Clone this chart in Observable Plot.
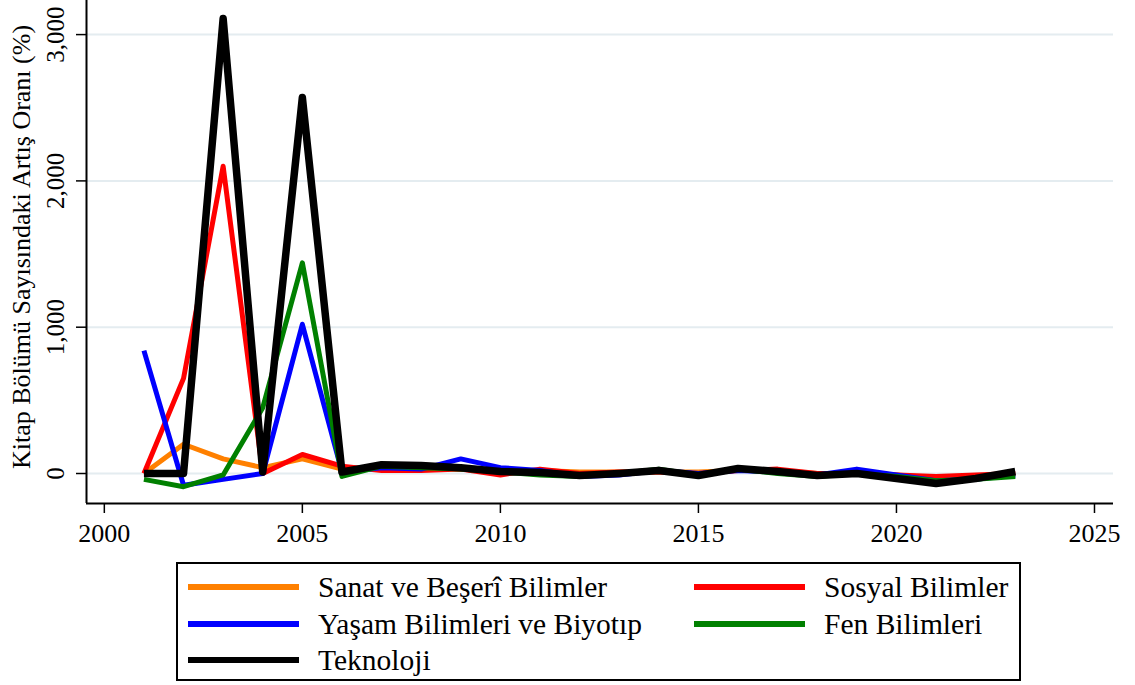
<!DOCTYPE html>
<html>
<head>
<meta charset="utf-8">
<script src="https://cdn.jsdelivr.net/npm/d3@7"></script>
<script src="https://cdn.jsdelivr.net/npm/@observablehq/plot@0.6"></script>
<style>
  html, body { margin: 0; padding: 0; background: #fff; }
  body { width: 1135px; height: 685px; overflow: hidden; position: relative; font-family: "Liberation Serif", "Times New Roman", serif; }
  #chart { position: absolute; left: 0; top: 0; }
  #chart svg { display: block; }
  #legend {
    position: absolute; left: 176px; top: 562px; width: 845px; height: 119px;
    box-sizing: border-box; border: 2px solid #000; background: #fff;
  }
  .item { position: absolute; height: 36px; display: flex; align-items: center; white-space: nowrap;
          font-family: "Liberation Serif", "Times New Roman", serif; font-size: 29.5px; color: #000; }
  .sw { width: 111px; height: 6px; margin-right: 19px; }
</style>
</head>
<body>
<div id="chart"></div>
<div id="legend"></div>
<script>
const years = [2001,2002,2003,2004,2005,2006,2007,2008,2009,2010,2011,2012,2013,2014,2015,2016,2017,2018,2019,2020,2021,2022,2023];
const seriesNames = ["Sanat ve Beşerî Bilimler", "Sosyal Bilimler", "Yaşam Bilimleri ve Biyotıp", "Fen Bilimleri", "Teknoloji"];
const seriesColors = ["#ff8000", "#ff0000", "#0000ff", "#008000", "#000000"];
const sanat  = [0,200,100,40,100,30,40,40,30,20,20,10,10,10,10,20,20,0,0,-10,-30,-30,0];
const sosyal = [0,650,2100,0,130,50,20,20,30,-10,30,0,10,10,0,20,30,0,0,-10,-20,-10,0];
const yasam  = [840,-80,-40,0,1020,10,40,30,100,40,20,-20,-10,20,0,20,10,-10,30,-10,-50,-40,-10];
const fen    = [-40,-90,-10,450,1440,-20,50,40,30,10,-10,-20,0,30,-10,30,0,-20,0,-20,-50,-40,-20];
const tek    = [0,0,3110,10,2570,10,60,55,40,14,7,-14,0,20,-14,34,14,-14,0,-34,-68,-34,14];
const yTicks = [0, 1000, 2000, 3000];
const xTicks = [2000, 2005, 2010, 2015, 2020, 2025];
const yTitle = "Kitap Bölümü Sayısındaki Artış Oranı (%)";

const allSeries = [sanat, sosyal, yasam, fen, tek];
const rows = [];
allSeries.forEach((vals, i) => vals.forEach((v, j) => rows.push({year: years[j], value: v, series: seriesNames[i]})));

const xDomain = [1999.55, 2025.48];
const yDomain = [-205, 3233];

const plot = Plot.plot({
  width: 1135,
  height: 560,
  marginLeft: 86,
  marginRight: 22,
  marginTop: 0,
  marginBottom: 57,
  style: {fontFamily: "Liberation Serif", fontSize: "25px", color: "#000", background: "#fff", overflow: "visible"},
  x: {domain: xDomain},
  y: {domain: yDomain},
  color: {domain: seriesNames, range: seriesColors},
  marks: [
    Plot.gridY(yTicks, {stroke: "#e4ecf0", strokeOpacity: 1, strokeWidth: 2}),
    Plot.axisY(yTicks, {tickFormat: d3.format(","), tickSize: 10, tickPadding: 13, tickRotate: -90, fontSize: 25, strokeWidth: 1.5, label: null}),
    Plot.text([yTitle], {text: d => d, frameAnchor: "left", rotate: -90, textAnchor: "middle", lineAnchor: "middle",
      fontSize: 26, dx: -65, dy: -5, fill: "#000"}),
    Plot.axisX(xTicks, {tickFormat: d => String(d), tickSize: 10, tickPadding: 10, fontSize: 26, strokeWidth: 1.5, label: null}),
    Plot.ruleX([xDomain[0]], {stroke: "#000", strokeWidth: 2}),
    Plot.ruleY([yDomain[0]], {stroke: "#000", strokeWidth: 2}),
    ...seriesNames.map((name, i) =>
      Plot.line(rows.filter(r => r.series === name), {
        x: "year", y: "value", stroke: "series",
        strokeWidth: i === 4 ? 7.5 : 5, strokeLinejoin: "round", strokeLinecap: "butt"
      })
    )
  ]
});
document.getElementById("chart").appendChild(plot);

const legend = document.getElementById("legend");
// positions relative to legend box (box left 176, top 562)
const pos = [[10, 5], [516, 5], [10, 42], [516, 42], [10, 78]];
seriesNames.forEach((name, i) => {
  const it = document.createElement("div");
  it.className = "item";
  it.style.left = pos[i][0] + "px";
  it.style.top = pos[i][1] + "px";
  it.innerHTML = `<div class="sw" style="background:${seriesColors[i]}"></div><span>${name}</span>`;
  legend.appendChild(it);
});
</script>
</body>
</html>
